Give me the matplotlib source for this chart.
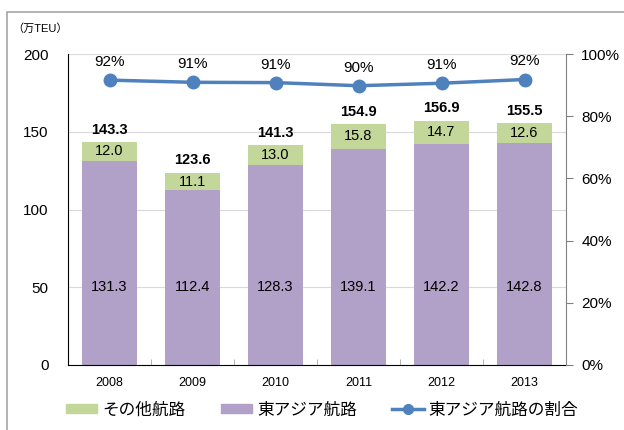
import numpy as np
import matplotlib
matplotlib.use("Agg")
import matplotlib.pyplot as plt
from matplotlib.patches import Rectangle
from matplotlib.lines import Line2D
from matplotlib.patches import Patch

plt.rcParams['font.family'] = ['Liberation Sans', 'Noto Sans CJK JP']

# ---- data ----
years = ['2008', '2009', '2010', '2011', '2012', '2013']
east_asia = [131.3, 112.4, 128.3, 139.1, 142.2, 142.8]
other = [12.0, 11.1, 13.0, 15.8, 14.7, 12.6]
totals = [143.3, 123.6, 141.3, 154.9, 156.9, 155.5]
share = [0.92, 0.91, 0.91, 0.90, 0.91, 0.92]
share_plot = [0.916, 0.909, 0.908, 0.898, 0.906, 0.918]

C_PURPLE = '#B1A0C7'
C_GREEN = '#C4D79B'
C_LINE = '#4F81BD'

fig = plt.figure(figsize=(6.24, 4.30), dpi=100)
ax = fig.add_axes([68 / 624, 1 - 365 / 430, 498 / 624, 311 / 430])

# outer frame
fig.patches.append(Rectangle((7 / 624, -0.2), 1.2, 1 - 12 / 430 + 0.2, transform=fig.transFigure,
                             fill=False, edgecolor='#A6A6A6', linewidth=1.2, zorder=0))

x = np.arange(len(years))
w = 0.66
ax.bar(x, east_asia, width=w, color=C_PURPLE, zorder=2)
ax.bar(x, other, width=w, bottom=east_asia, color=C_GREEN, zorder=2)

for i in range(len(years)):
    ax.text(x[i], 50, f'{east_asia[i]:.1f}', ha='center', va='center', fontsize=10.5, zorder=3)
    ax.text(x[i], east_asia[i] + other[i] / 2, f'{other[i]:.1f}', ha='center', va='center',
            fontsize=10.5, zorder=3)
    ax.annotate(f'{totals[i]:.1f}', (x[i], totals[i]), xytext=(0, 4), textcoords='offset points',
                ha='center', va='bottom', fontsize=10.5, fontweight='bold', zorder=3)

ax.set_xlim(-0.5, len(years) - 0.5)
ax.set_ylim(0, 200)
ax.set_yticks([0, 50, 100, 150, 200])
ax.yaxis.grid(True, color='#D9D9D9', linewidth=0.8, zorder=0)
ax.set_axisbelow(True)
ax.set_xticks(x)
ax.set_xticklabels(years, fontsize=9)
ax.set_xticks(np.arange(0.5, len(years) - 1, 1), minor=True)
ax.tick_params(axis='x', which='major', length=0, pad=9)
ax.tick_params(axis='x', which='minor', length=4, direction='in', color='#A6A6A6')
ax.tick_params(axis='y', length=0, labelsize=11, pad=14)
for s in ['top', 'right']:
    ax.spines[s].set_visible(False)
ax.spines['left'].set_color('black')
ax.spines['bottom'].set_color('black')

ax2 = ax.twinx()
ax2.plot(x, share_plot, color=C_LINE, linewidth=2.5, marker='o', markersize=9, zorder=4)
for i in range(len(years)):
    ax2.annotate(f'{share[i] * 100:.0f}%', (x[i], share_plot[i]), xytext=(0, 8),
                 textcoords='offset points', ha='center', va='bottom', fontsize=11)
ax2.set_ylim(0, 1)
ax2.set_yticks([0, 0.2, 0.4, 0.6, 0.8, 1.0])
ax2.set_yticklabels(['0%', '20%', '40%', '60%', '80%', '100%'])
ax2.tick_params(axis='y', length=5, direction='out', color='#808080', labelsize=11, pad=6)
for s in ['top', 'left', 'bottom']:
    ax2.spines[s].set_visible(False)
ax2.spines['right'].set_color('#808080')

fig.text(12 / 624, 1 - 29 / 430, '（万TEU）', fontsize=8, va='center', ha='left')

handles = [Patch(color=C_GREEN), Patch(color=C_PURPLE),
           Line2D([], [], color=C_LINE, linewidth=2.5, marker='o', markersize=7)]
labels = ['その他航路', '東アジア航路', '東アジア航路の割合']
fig.legend(handles, labels, loc='center', bbox_to_anchor=(322 / 624, 1 - 410 / 430), ncol=3,
           frameon=False, fontsize=12, handlelength=1.9, handleheight=0.45,
           columnspacing=2.1, handletextpad=0.3)

fig.savefig('out.png', dpi=100)
